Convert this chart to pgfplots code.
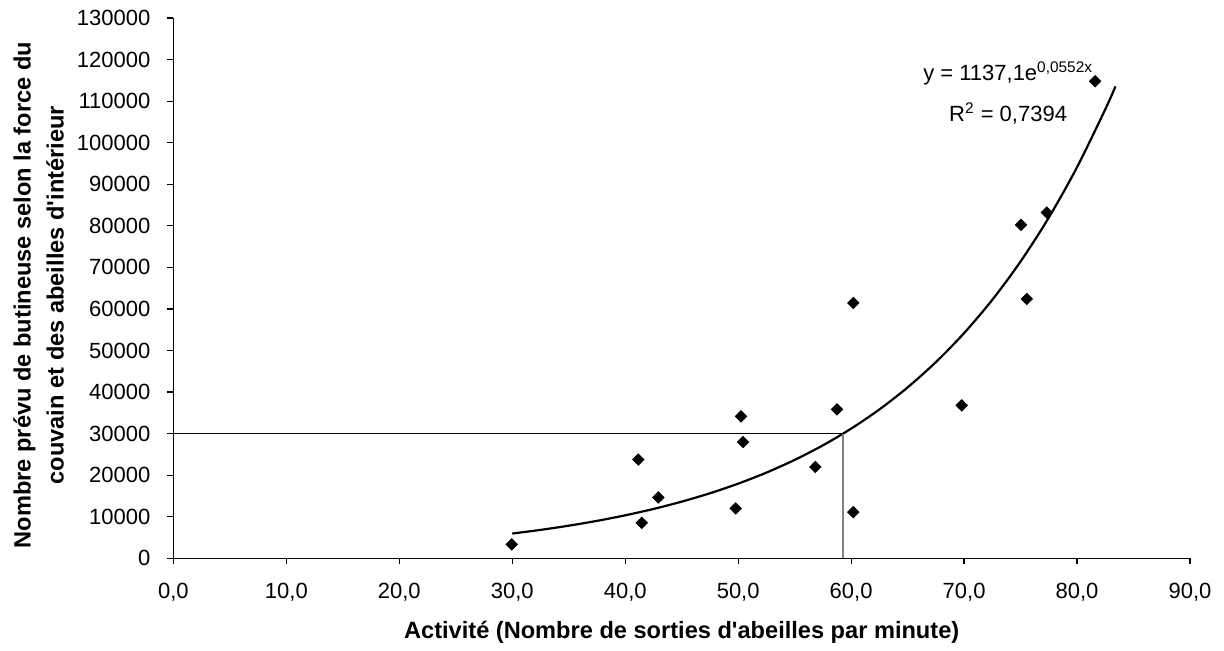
\documentclass[border=0pt]{standalone}
\usepackage{fontspec}
\setmainfont{Liberation Sans}
\usepackage{pgfplots}
\pgfplotsset{compat=1.18}

% Activité des butineuses : mesures (x = sorties par minute, y = butineuses prévues)
\begin{document}
\begin{tikzpicture}
\begin{axis}[
  at={(0,0)}, anchor=south west,
  scale only axis,
  width=508.3pt, height=270.15pt,
  xmin=0, xmax=90, ymin=0, ymax=130000,
  xtick={0,10,...,90},
  ytick={0,10000,...,130000},
  axis x line*=bottom, axis y line*=left,
  axis line style={-, black, line width=0.6pt},
  tick style={black, line width=0.6pt},
  tick align=outside,
  major tick length=3pt,
  scaled y ticks=false,
  /pgf/number format/assume math mode=true,
  tick label style={font=\fontsize{11}{13}\selectfont},
  xticklabel style={yshift=-6pt, /pgf/number format/.cd, fixed, fixed zerofill, precision=1, use comma},
  yticklabel style={xshift=-5pt, /pgf/number format/.cd, fixed, precision=0, 1000 sep={}},
  xlabel={Activité (Nombre de sorties d\textquotesingle abeilles par minute)},
  xlabel style={font=\fontsize{11.8}{14}\selectfont\bfseries,
    at={(axis description cs:0.5,-0.1366)}, anchor=center},
  ylabel={Nombre prévu de butineuse selon la force du\\couvain et des abeilles d\textquotesingle intérieur},
  ylabel style={font=\fontsize{11.8}{16.5}\selectfont\bfseries, align=center,
    at={(axis description cs:-0.1327,0.487)}, anchor=center},
  clip=false,
]
% tendance exponentielle y = 1137,1 e^{0,0552x}
\addplot[black, line width=1.1pt, smooth] coordinates {
  (30,5956) (32.5,6838) (35,7850) (37.5,9011) (40,10345) (42.5,11875)
  (45,13633) (47.5,15650) (50,17965) (52.5,20624) (55,23677) (57.5,27180)
  (60,31202) (62.5,35818) (65,41119) (67.5,47204) (70,54189) (72.5,62207)
  (75,71413) (77.5,81980) (80,94112) (82.5,108037) (83.4,113540)
};
% repères de lecture à 30000 butineuses
\addplot[black, line width=0.6pt] coordinates {(0,30000) (59.3,30000)};
\addplot[color={rgb,255:red,128;green,128;blue,128}, line width=1pt] coordinates {(59.3,0) (59.3,30000)};
% ruches observées
\addplot[only marks, mark=square*, mark size=2pt, mark options={rotate=45, fill=black, draw=black}] coordinates {
  (29.95,3360) (41.16,23760) (41.46,8540) (42.93,14640) (49.78,12000)
  (50.25,34150) (50.43,27980) (56.83,21990) (58.75,35830) (60.19,11100)
  (60.19,61440) (69.79,36790) (75.04,80230) (75.55,62400) (77.32,83190)
  (81.60,114800)
};
\node[font=\fontsize{11}{13}\selectfont] at (axis cs:73.9,116700) {y = 1137,1e\textsuperscript{0,0552x}};
\node[font=\fontsize{11}{13}\selectfont] at (axis cs:73.9,107100) {R\textsuperscript{2} = 0,7394};
\end{axis}
\pgfresetboundingbox
\useasboundingbox (-86.7pt,-45.85pt) rectangle (525.3pt,279.15pt);
\end{tikzpicture}
\end{document}
